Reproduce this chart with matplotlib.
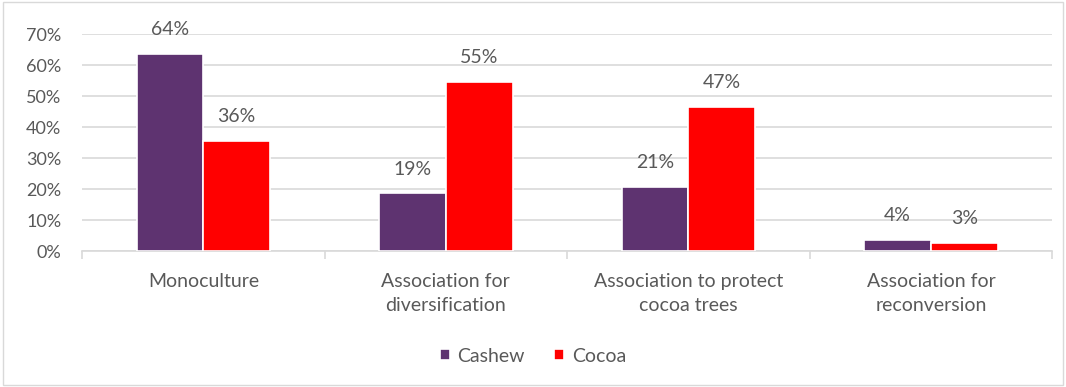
import numpy as np
import matplotlib.pyplot as plt
from matplotlib.patches import Rectangle

plt.rcParams['font.family'] = ['Lato', 'DejaVu Sans']

categories = ['Monoculture', 'Association for\ndiversification',
              'Association to protect\ncocoa trees', 'Association for\nreconversion']
cashew = [63.6, 18.6, 20.6, 3.6]
cocoa = [35.6, 54.6, 46.6, 2.6]

grey = '#595959'
fig = plt.figure(figsize=(10.66, 3.87), dpi=100)
ax = fig.add_axes([0.077, 0.351, 0.910, 0.561])

x = np.arange(len(categories))
w = 0.275
b1 = ax.bar(x - w/2, cashew, w, color='#5e3370', edgecolor='white', linewidth=1.2, label='Cashew', zorder=3)
b2 = ax.bar(x + w/2, cocoa, w, color='#ff0000', edgecolor='white', linewidth=1.2, label='Cocoa', zorder=3)

for bars, vals in ((b1, cashew), (b2, cocoa)):
    for r, v in zip(bars, vals):
        ax.annotate('%.0f%%' % v, (r.get_x() + r.get_width()/2, v), xytext=(0, 11.5),
                    textcoords='offset points', ha='center', va='bottom', fontsize=14, color=grey)

ax.set_ylim(0, 70)
ax.set_xlim(-0.5, len(categories) - 0.5)
ax.set_yticks(range(0, 71, 10))
ax.set_yticklabels(['%d%%' % t for t in range(0, 71, 10)])
ax.yaxis.grid(True, color='#d9d9d9', linewidth=1.2, zorder=0)
ax.set_xticks(x)
ax.set_xticklabels(categories, linespacing=1.5)
ax.set_xticks(np.arange(-0.5, len(categories)), minor=True)
ax.tick_params(axis='x', which='major', length=0, pad=16, labelsize=14, labelcolor=grey)
ax.tick_params(axis='x', which='minor', length=6, color='#d9d9d9', width=1.2)
ax.tick_params(axis='y', length=0, pad=15, labelsize=13, labelcolor=grey)
for s in ('top', 'right', 'left'):
    ax.spines[s].set_visible(False)
ax.spines['bottom'].set_color('#d9d9d9')
ax.spines['bottom'].set_linewidth(1.2)

fig.legend(handles=[b1, b2], loc='center', bbox_to_anchor=(0.5, 0.08), ncol=2, frameon=False,
           fontsize=14, labelcolor=grey, handlelength=0.5, handleheight=0.5, handletextpad=0.4,
           columnspacing=1.5)

fig.patches.append(Rectangle((0.003, 0.005), 0.994, 0.99, transform=fig.transFigure,
                             fill=False, edgecolor='#d9d9d9', linewidth=1))

fig.savefig('out.png', dpi=100)
